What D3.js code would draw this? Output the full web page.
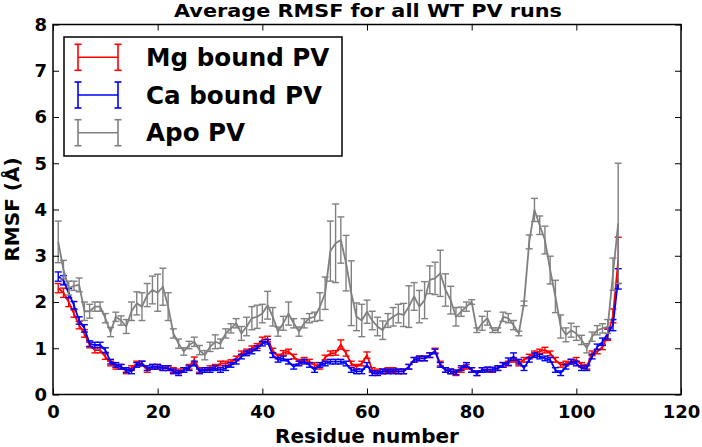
<!DOCTYPE html>
<html>
<head>
<meta charset="utf-8">
<script src="https://cdn.jsdelivr.net/npm/d3@7/dist/d3.min.js"></script>
<style>
  html, body { margin: 0; padding: 0; background: #fff; }
  svg { display: block; }
  text { font-family: "DejaVu Sans", sans-serif; font-weight: bold; fill: #000; }
</style>
</head>
<body>
<svg id="chart" width="702" height="447"></svg>
<script>
// ---- data ----
const residues = [1,2,3,4,5,6,7,8,9,10,11,12,13,14,15,16,17,18,19,20,
  21,22,23,24,25,26,27,28,29,30,31,32,33,34,35,36,37,38,39,40,
  41,42,43,44,45,46,47,48,49,50,51,52,53,54,55,56,57,58,59,60,
  61,62,63,64,65,66,67,68,69,70,71,72,73,74,75,76,77,78,79,80,
  81,82,83,84,85,86,87,88,89,90,91,92,93,94,95,96,97,98,99,100,
  101,102,103,104,105,106,107,108];

const seriesNames = ["Mg bound PV", "Ca bound PV", "Apo PV"];

const mgRmsf = [2.3,2.2,2.0,1.75,1.5,1.32,1.07,0.96,0.96,0.82,
  0.67,0.6,0.6,0.5,0.57,0.67,0.67,0.53,0.6,0.6,
  0.57,0.57,0.53,0.5,0.53,0.6,0.75,0.53,0.53,0.57,
  0.6,0.67,0.67,0.7,0.78,0.89,0.93,1.0,1.05,1.18,
  1.2,0.95,0.82,0.9,0.93,0.82,0.71,0.75,0.71,0.64,
  0.6,0.8,0.89,0.9,1.08,0.89,0.67,0.6,0.67,0.85,
  0.53,0.5,0.5,0.53,0.53,0.5,0.5,0.6,0.75,0.78,
  0.78,0.85,0.95,0.67,0.53,0.5,0.46,0.53,0.6,0.53,
  0.46,0.53,0.54,0.53,0.57,0.64,0.67,0.75,0.67,0.75,
  0.82,0.89,0.93,0.96,0.89,0.75,0.64,0.67,0.71,0.75,
  0.64,0.6,0.89,0.93,1.03,1.29,1.7,2.9];
const mgErr = [0.1,0.1,0.1,0.08,0.08,0.08,0.06,0.06,0.06,0.06,
  0.05,0.05,0.05,0.05,0.05,0.05,0.05,0.05,0.05,0.05,
  0.05,0.05,0.05,0.05,0.05,0.05,0.06,0.05,0.05,0.05,
  0.05,0.05,0.05,0.05,0.05,0.05,0.05,0.05,0.05,0.06,
  0.06,0.05,0.05,0.05,0.05,0.05,0.05,0.05,0.05,0.05,
  0.05,0.05,0.05,0.05,0.1,0.06,0.05,0.05,0.05,0.07,
  0.05,0.05,0.05,0.05,0.05,0.05,0.05,0.05,0.05,0.05,
  0.05,0.05,0.05,0.05,0.05,0.05,0.05,0.05,0.05,0.05,
  0.05,0.05,0.05,0.05,0.05,0.05,0.05,0.05,0.05,0.05,
  0.05,0.05,0.05,0.06,0.05,0.05,0.05,0.05,0.05,0.05,
  0.05,0.05,0.05,0.05,0.06,0.12,0.15,0.5];

const caRmsf = [2.55,2.47,2.19,1.93,1.6,1.43,1.1,1.07,1.07,0.96,
  0.71,0.64,0.6,0.53,0.5,0.64,0.67,0.57,0.6,0.6,
  0.57,0.57,0.5,0.46,0.53,0.57,0.67,0.5,0.53,0.53,
  0.57,0.53,0.57,0.64,0.71,0.82,0.89,0.93,1.0,1.1,
  1.14,0.85,0.75,0.78,0.71,0.6,0.67,0.71,0.64,0.53,
  0.64,0.67,0.71,0.71,0.71,0.67,0.53,0.5,0.5,0.64,
  0.46,0.46,0.5,0.5,0.5,0.5,0.5,0.6,0.75,0.78,
  0.78,0.85,0.93,0.64,0.53,0.5,0.48,0.57,0.64,0.53,
  0.46,0.53,0.54,0.54,0.57,0.64,0.71,0.82,0.71,0.57,
  0.75,0.85,0.82,0.78,0.75,0.53,0.46,0.6,0.71,0.67,
  0.57,0.57,0.82,1.03,1.14,1.32,1.5,2.5];
const caErr = [0.1,0.1,0.1,0.08,0.08,0.08,0.06,0.06,0.06,0.05,
  0.05,0.05,0.05,0.05,0.05,0.05,0.05,0.05,0.05,0.05,
  0.05,0.05,0.05,0.05,0.05,0.05,0.05,0.05,0.05,0.05,
  0.05,0.05,0.05,0.05,0.05,0.05,0.05,0.05,0.05,0.05,
  0.05,0.05,0.05,0.05,0.05,0.05,0.05,0.05,0.05,0.05,
  0.05,0.05,0.05,0.05,0.05,0.05,0.05,0.05,0.05,0.05,
  0.05,0.05,0.05,0.05,0.05,0.05,0.05,0.05,0.05,0.05,
  0.05,0.05,0.05,0.05,0.05,0.05,0.05,0.05,0.05,0.05,
  0.05,0.05,0.05,0.05,0.05,0.05,0.08,0.08,0.05,0.05,
  0.05,0.05,0.05,0.05,0.05,0.05,0.05,0.05,0.05,0.05,
  0.05,0.05,0.05,0.06,0.08,0.12,0.12,0.22];

const apoRmsf = [3.3,2.7,2.3,2.35,2.37,1.8,1.8,1.9,1.9,1.65,
  1.35,1.68,1.6,1.47,1.8,1.97,1.9,2.15,2.26,2.2,
  2.33,1.9,1.32,1.1,0.93,1.07,1.14,0.96,0.85,1.03,
  1.14,1.1,1.32,1.43,1.54,1.32,1.47,1.65,1.68,1.75,
  1.93,1.68,1.36,1.54,1.75,1.54,1.36,1.54,1.65,1.68,
  1.9,2.19,3.1,3.27,3.34,2.84,2.19,1.68,1.6,1.79,
  1.6,1.47,1.39,1.6,1.68,1.75,1.72,1.9,2.12,1.9,
  2.04,2.48,2.51,2.62,2.26,2.04,1.68,1.79,1.9,2.0,
  1.39,1.54,1.65,1.39,1.39,1.68,1.65,1.5,1.32,1.97,
  3.3,3.99,3.66,3.34,2.69,2.12,1.47,1.29,1.39,1.32,
  1.18,1.0,1.25,1.39,1.43,1.47,2.6,3.7];
const apoErr = [0.45,0.2,0.15,0.1,0.15,0.2,0.15,0.1,0.1,0.1,
  0.1,0.1,0.1,0.15,0.2,0.25,0.3,0.25,0.3,0.4,
  0.4,0.3,0.1,0.1,0.08,0.08,0.1,0.1,0.1,0.1,
  0.15,0.1,0.1,0.1,0.1,0.15,0.2,0.25,0.25,0.2,
  0.3,0.2,0.1,0.15,0.25,0.1,0.1,0.1,0.1,0.1,
  0.3,0.35,0.65,0.85,0.5,0.6,0.7,0.3,0.35,0.25,
  0.2,0.2,0.2,0.15,0.2,0.2,0.25,0.45,0.3,0.35,
  0.4,0.3,0.35,0.5,0.35,0.3,0.2,0.1,0.1,0.05,
  0.05,0.15,0.15,0.05,0.05,0.1,0.1,0.1,0.05,0.05,
  0.15,0.25,0.2,0.3,0.3,0.35,0.25,0.15,0.15,0.15,
  0.1,0.1,0.1,0.1,0.1,0.15,0.35,1.3];

const seriesColors = ["#ff0000", "#0000ff", "#808080"];
const xTicks = [0,20,40,60,80,100,120];
const yTicks = [0,1,2,3,4,5,6,7,8];

// ---- layout ----
const svg = d3.select("#chart");
const L = 53, R = 681, T = 24.5, B = 394.5;
const x = d3.scaleLinear().domain([0,120]).range([L,R]);
const y = d3.scaleLinear().domain([0,8]).range([B,T]);

const series = [
  {name: seriesNames[0], vals: mgRmsf, errs: mgErr, color: seriesColors[0]},
  {name: seriesNames[1], vals: caRmsf, errs: caErr, color: seriesColors[1]},
  {name: seriesNames[2], vals: apoRmsf, errs: apoErr, color: seriesColors[2]}
];

const capW = 3.5;
const plot = svg.append("g");
series.forEach(s => {
  const g = plot.append("g");
  const pts = residues.map((r,i) => ({r, v: s.vals[i], e: s.errs[i]}));
  g.append("path")
    .datum(pts)
    .attr("fill","none")
    .attr("stroke", s.color)
    .attr("stroke-width", 1.8)
    .attr("stroke-linejoin","round")
    .attr("d", d3.line().x(d => x(d.r)).y(d => y(d.v)));
  const eb = g.selectAll("g.eb").data(pts).enter().append("g")
    .attr("stroke", s.color).attr("stroke-width", 1.4);
  eb.append("line")
    .attr("x1", d => x(d.r)).attr("x2", d => x(d.r))
    .attr("y1", d => y(d.v - d.e)).attr("y2", d => y(d.v + d.e));
  eb.append("line")
    .attr("x1", d => x(d.r) - capW).attr("x2", d => x(d.r) + capW)
    .attr("y1", d => y(d.v - d.e)).attr("y2", d => y(d.v - d.e));
  eb.append("line")
    .attr("x1", d => x(d.r) - capW).attr("x2", d => x(d.r) + capW)
    .attr("y1", d => y(d.v + d.e)).attr("y2", d => y(d.v + d.e));
});

// ---- axes ----
const tickFont = 18;
const xAxis = svg.append("g").attr("transform", `translate(0,${B})`)
  .call(d3.axisBottom(x).tickValues(xTicks).tickSizeInner(-6).tickSizeOuter(0).tickPadding(11).tickFormat(d3.format("d")));
const xAxisTop = svg.append("g").attr("transform", `translate(0,${T})`)
  .call(d3.axisTop(x).tickValues(xTicks).tickSizeInner(-6).tickSizeOuter(0).tickFormat(""));
const yAxis = svg.append("g").attr("transform", `translate(${L},0)`)
  .call(d3.axisLeft(y).tickValues(yTicks).tickSizeInner(-6).tickSizeOuter(0).tickPadding(6).tickFormat(d3.format("d")));
const yAxisRight = svg.append("g").attr("transform", `translate(${R},0)`)
  .call(d3.axisRight(y).tickValues(yTicks).tickSizeInner(-6).tickSizeOuter(0).tickFormat(""));
[xAxis, xAxisTop, yAxis, yAxisRight].forEach(a => {
  a.select(".domain").remove();
  a.selectAll(".tick line").attr("stroke", "#000").attr("stroke-width", 1);
  a.selectAll(".tick text").attr("font-size", tickFont).attr("font-family", "DejaVu Sans").attr("font-weight", "bold").attr("fill", "#000");
});

svg.append("rect")
  .attr("x", L).attr("y", T).attr("width", R - L).attr("height", B - T)
  .attr("fill", "none").attr("stroke", "#000").attr("stroke-width", 1.5);

// ---- titles ----
svg.append("text").attr("x", 368).attr("y", 17)
  .attr("text-anchor", "middle").attr("font-size", 17.5)
  .attr("textLength", 388).attr("lengthAdjust", "spacingAndGlyphs")
  .text("Average RMSF for all WT PV runs");
svg.append("text").attr("x", (L + R) / 2).attr("y", 443)
  .attr("text-anchor", "middle").attr("font-size", 20)
  .text("Residue number");
svg.append("text")
  .attr("transform", `translate(18.5,${(T + B) / 2}) rotate(-90)`)
  .attr("text-anchor", "middle").attr("font-size", 20)
  .text("RMSF (Å)");

// ---- legend ----
const leg = svg.append("g");
leg.append("rect").attr("x", 64).attr("y", 37).attr("width", 278).attr("height", 119)
  .attr("fill", "#fff").attr("stroke", "#000").attr("stroke-width", 1.5);
series.forEach((s, i) => {
  const cy = 57.3 + i * 37.7;
  const g = leg.append("g").attr("stroke", s.color).attr("stroke-width", 1.6);
  g.append("line").attr("x1", 78).attr("x2", 118).attr("y1", cy).attr("y2", cy);
  [78, 118].forEach(xx => {
    g.append("line").attr("x1", xx).attr("x2", xx).attr("y1", cy - 13).attr("y2", cy + 13);
    g.append("line").attr("x1", xx - capW).attr("x2", xx + capW).attr("y1", cy - 13).attr("y2", cy - 13);
    g.append("line").attr("x1", xx - capW).attr("x2", xx + capW).attr("y1", cy + 13).attr("y2", cy + 13);
  });
  leg.append("text").attr("x", 146).attr("y", cy + 8.7).attr("font-size", 24.6).text(s.name);
});
</script>
</body>
</html>
